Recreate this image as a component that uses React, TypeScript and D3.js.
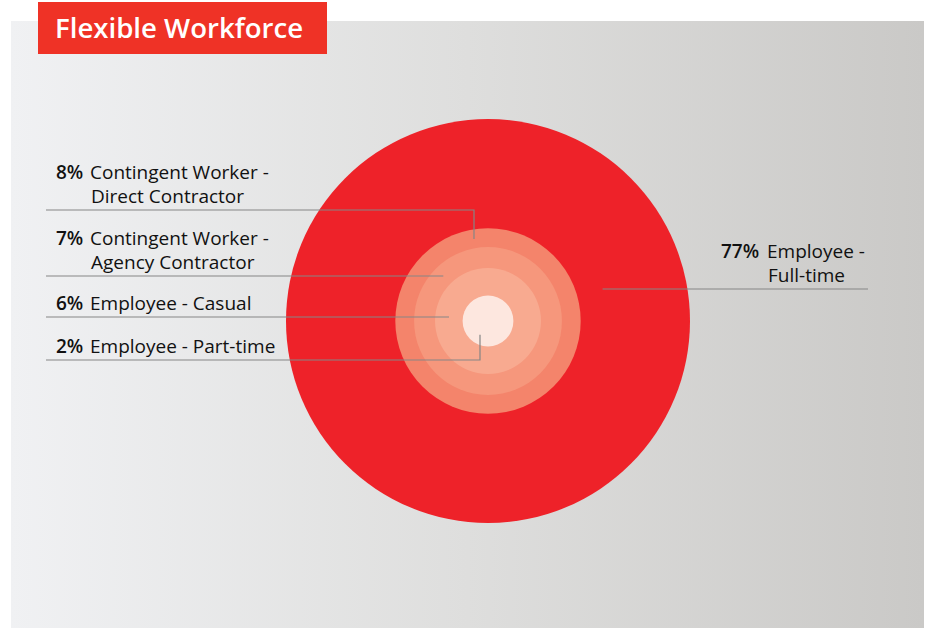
import React, { useEffect, useRef } from "react";
import * as d3 from "d3";

// values, outermost ring first
const categories = [
  "Employee - Full-time",
  "Contingent Worker - Direct Contractor",
  "Contingent Worker - Agency Contractor",
  "Employee - Casual",
  "Employee - Part-time",
];
const values = [77, 8, 7, 6, 2];
const labelLines = [
  ["Employee -", "Full-time"],
  ["Contingent Worker -", "Direct Contractor"],
  ["Contingent Worker -", "Agency Contractor"],
  ["Employee - Casual"],
  ["Employee - Part-time"],
];
const ringColors = ["#ee2229", "#f4846b", "#f6977c", "#f8aa90", "#fde7df"];

export default function App() {
  const svgRef = useRef(null);
  const width = 926;
  const height = 628;

  useEffect(() => {
    const svg = d3.select(svgRef.current);
    svg.selectAll("*").remove();

    const cx = 488;
    const cy = 321;

    // cumulative share from each ring to the centre
    const cumulative = values.map((_, i) => d3.sum(values.slice(i)));
    const r = d3.scalePow().exponent(0.53).domain([0, 100]).range([0, 202]);

    // background panel
    const defs = svg.append("defs");
    const grad = defs.append("linearGradient").attr("id", "bg").attr("x1", "0").attr("x2", "1").attr("y1", "0").attr("y2", "0");
    grad.append("stop").attr("offset", "0%").attr("stop-color", "#f0f1f3");
    grad.append("stop").attr("offset", "50%").attr("stop-color", "#dededd");
    grad.append("stop").attr("offset", "100%").attr("stop-color", "#cac9c7");

    svg.append("rect")
      .attr("x", 11).attr("y", 21)
      .attr("width", 913).attr("height", height - 21)
      .attr("fill", "url(#bg)");

    // title
    svg.append("rect")
      .attr("x", 38).attr("y", 2)
      .attr("width", 289).attr("height", 52)
      .attr("fill", "#ef3226");
    svg.append("text")
      .attr("x", 55).attr("y", 38)
      .attr("fill", "#fff")
      .attr("font-family", "'Open Sans', sans-serif")
      .attr("font-weight", 600)
      .attr("font-size", 27.6)
      .text("Flexible Workforce");

    // concentric circles
    svg.append("g")
      .selectAll("circle")
      .data(cumulative)
      .join("circle")
      .attr("cx", cx).attr("cy", cy)
      .attr("r", (d) => r(d))
      .attr("fill", (_, i) => ringColors[i]);

    // label layout: where each label sits and how its leader meets the ring
    const layout = [
      { side: "right", lineY: 289, pctX: 721, textX: 767, x0: 868, mode: "h", frac: 0.24 },
      { side: "left", lineY: 210, pctX: 56, textX: 90, x0: 46, mode: "v", dx: -14, frac: 0.5 },
      { side: "left", lineY: 276, pctX: 56, textX: 90, x0: 46, mode: "h", frac: 0.5 },
      { side: "left", lineY: 317, pctX: 56, textX: 90, x0: 46, mode: "h", frac: 0.5 },
      { side: "left", lineY: 360, pctX: 56, textX: 90, x0: 46, mode: "v", dx: -8, frac: 0.63 },
    ];

    const font = "'Open Sans', sans-serif";
    const labels = svg.append("g");

    categories.forEach((cat, i) => {
      const L = layout[i];
      const rOut = r(cumulative[i]);
      const rIn = i + 1 < cumulative.length ? r(cumulative[i + 1]) : 0;
      const R = rIn + L.frac * (rOut - rIn);
      let path;
      if (L.mode === "h") {
        const dy = L.lineY - cy;
        const dx = Math.sqrt(R * R - dy * dy);
        const xa = L.side === "left" ? cx - dx : cx + dx;
        path = `M${L.x0},${L.lineY}H${xa}`;
      } else {
        const xa = cx + L.dx;
        const dyA = Math.sqrt(R * R - L.dx * L.dx);
        const ya = L.lineY < cy ? cy - dyA : cy + dyA;
        path = `M${L.x0},${L.lineY}H${xa}V${ya}`;
      }
      labels.append("path")
        .attr("d", path)
        .attr("fill", "none")
        .attr("stroke", "#858585")
        .attr("stroke-width", 1.2);

      const lines = labelLines[i];
      const lastBase = L.lineY - 7;
      lines.forEach((ln, j) => {
        const base = lastBase - (lines.length - 1 - j) * 24;
        if (j === 0) {
          labels.append("text")
            .attr("x", L.pctX).attr("y", base)
            .attr("font-family", font)
            .attr("font-weight", 600)
            .attr("font-size", 19)
            .attr("fill", "#111")
            .text(`${values[i]}%`);
        }
        labels.append("text")
          .attr("x", L.textX + (j > 0 ? 1 : 0)).attr("y", base)
          .attr("font-family", font)
          .attr("font-size", 19)
          .attr("fill", "#111")
          .text(ln);
      });
    });
  }, []);

  return (
    <svg
      ref={svgRef}
      width={width}
      height={height}
      style={{ position: "absolute", left: 0, top: 0, background: "#fff" }}
    ></svg>
  );
}
